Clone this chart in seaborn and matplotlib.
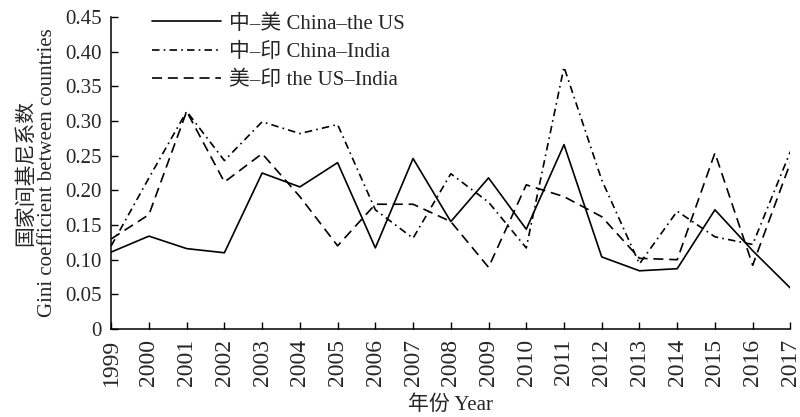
import matplotlib
matplotlib.use("Agg")
import matplotlib.pyplot as plt
import seaborn as sns
import pandas as pd

years = list(range(1999, 2018))
china_us = [0.111, 0.134, 0.116, 0.110, 0.225, 0.205, 0.240, 0.117, 0.246, 0.155,
            0.218, 0.144, 0.266, 0.104, 0.084, 0.087, 0.172, 0.113, 0.059]
china_india = [0.120, 0.218, 0.314, 0.243, 0.299, 0.282, 0.295, 0.172, 0.131, 0.224,
               0.183, 0.117, 0.378, 0.215, 0.094, 0.170, 0.133, 0.122, 0.256]
us_india = [0.130, 0.165, 0.314, 0.212, 0.253, 0.191, 0.120, 0.180, 0.180, 0.155,
            0.089, 0.208, 0.191, 0.162, 0.102, 0.100, 0.254, 0.092, 0.240]
series_labels = ["中–美 China–the US", "中–印 China–India", "美–印 the US–India"]
y_ticks = [0, 0.05, 0.10, 0.15, 0.20, 0.25, 0.30, 0.35, 0.40, 0.45]
y_tick_labels = ["0", "0.05", "0.10", "0.15", "0.20", "0.25", "0.30", "0.35", "0.40", "0.45"]

sns.set_theme(style="ticks")
plt.rcParams["font.family"] = ["Liberation Serif", "Noto Sans CJK SC", "DejaVu Sans"]

fig = plt.figure(figsize=(8, 4.17), dpi=100)
ax = fig.add_axes([0.139, 0.211, 0.849, 0.748])

styles = ["-", (0, (4.5, 2.5, 1, 2.5)), (0, (6, 3.5))]
for vals, lab, ls in zip([china_us, china_india, us_india], series_labels, styles):
    sns.lineplot(x=years, y=vals, ax=ax, color="black", linewidth=1.2,
                 linestyle=ls, label=lab)

ax.set_xlim(1999, 2017)
ax.set_ylim(0, 0.45)
ax.set_xticks(years)
ax.set_xticklabels([str(y) for y in years], rotation=90, fontsize=17)
ax.set_yticks(y_ticks)
ax.set_yticklabels(y_tick_labels, fontsize=15)
ax.tick_params(direction="in", length=5, width=1, color="black", pad=7)
for s in ["top", "right"]:
    ax.spines[s].set_visible(False)
for s in ["left", "bottom"]:
    ax.spines[s].set_color("black")
    ax.spines[s].set_linewidth(1.1)

ax.set_xlabel("年份 Year", fontsize=15, labelpad=7)
ax.set_ylabel("国家间基尼系数\nGini coefficient between countries", fontsize=15,
              labelpad=6, linespacing=1.1)

ax.legend(loc="upper left", bbox_to_anchor=(0.033, 1.07), frameon=False,
          fontsize=15, handlelength=3.3, handletextpad=0.4, labelspacing=0.42)

fig.savefig("out.png", dpi=100)
